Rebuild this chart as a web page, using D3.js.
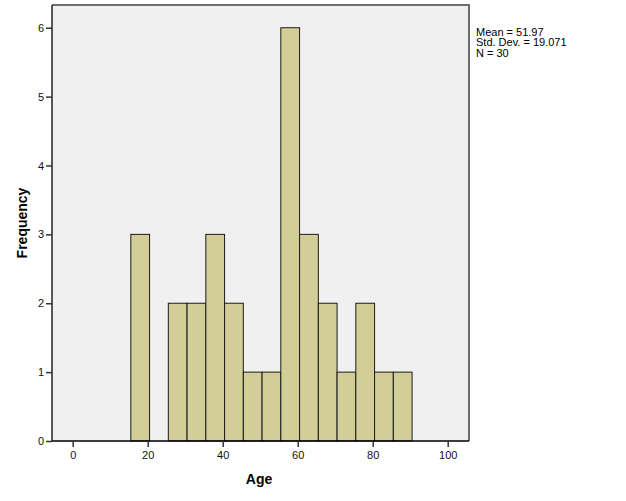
<!DOCTYPE html>
<html><head><meta charset="utf-8">
<script src="https://cdn.jsdelivr.net/npm/d3@7"></script>
<style>body{margin:0;background:#fff;}svg{display:block;font-family:"Liberation Sans",Arial,sans-serif;}</style>
</head><body>
<svg id="c" width="626" height="501"></svg>
<script>
const binStarts = [15.5,20.5,25.5,30.5,35.5,40.5,45.5,50.5,55.5,60.5,65.5,70.5,75.5,80.5,85.5];
const binWidth = 5;
const counts = [3,0,2,2,3,2,1,1,6,3,2,1,2,1,1];
const xTicks = [0,20,40,60,80,100];
const yTicks = [0,1,2,3,4,5,6];
const statsLines = ["Mean = 51.97","Std. Dev. = 19.071","N = 30"];

const svg = d3.select("#c");
const L=52, R=469, T=5, B=441;
const x = d3.scaleLinear().domain([-5.52,105.68]).range([L,R]);
const y = d3.scaleLinear().domain([0,6.33]).range([B,T]);

svg.append("rect").attr("x",L).attr("y",T).attr("width",R-L).attr("height",B-T).attr("fill","#f0f0f0");

svg.selectAll("rect.bar").data(binStarts.map((s,i)=>({s,c:counts[i]})).filter(d=>d.c>0))
 .enter().append("rect").attr("class","bar")
 .attr("x",d=>x(d.s)).attr("width",d=>x(d.s+binWidth)-x(d.s))
 .attr("y",d=>y(d.c)).attr("height",d=>y(0)-y(d.c))
 .attr("fill","#d3ce97").attr("stroke","#1a1a1a").attr("stroke-width",1);

// frame top/right
svg.append("path").attr("d",`M${L},${T}H${R}V${B}`).attr("fill","none").attr("stroke","#6e6e6e").attr("stroke-width",2);

const yAxis = svg.append("g").attr("transform",`translate(${L},0)`)
 .call(d3.axisLeft(y).tickValues(yTicks).tickFormat(d3.format("d")).tickSize(6).tickPadding(2));
const xAxis = svg.append("g").attr("transform",`translate(0,${B})`)
 .call(d3.axisBottom(x).tickValues(xTicks).tickFormat(d3.format("d")).tickSize(6).tickPadding(4));
[yAxis,xAxis].forEach(g=>{
  g.select(".domain").attr("stroke","#000").attr("stroke-width",1.3);
  g.selectAll(".tick line").attr("stroke","#333").attr("stroke-width",1.5);
  g.selectAll("text").attr("font-size",11).attr("fill","#111").attr("font-family","Liberation Sans, Arial, sans-serif");
});
yAxis.select(".domain").attr("d",`M0,${T}V${B}`);
xAxis.select(".domain").attr("d",`M${L},0H${R}`);

svg.append("text").attr("x",259).attr("y",484).attr("text-anchor","middle")
 .attr("font-size",14).attr("font-weight","bold").attr("fill","#000").text("Age");
svg.append("text").attr("transform",`translate(27,223) rotate(-90)`).attr("text-anchor","middle")
 .attr("font-size",14).attr("font-weight","bold").attr("fill","#000").text("Frequency");

svg.append("g").selectAll("text").data(statsLines).enter().append("text")
 .attr("x",476).attr("y",(d,i)=>35.5+i*10.5).attr("font-size",11).attr("fill","#000").text(d=>d);
</script>
</body></html>
